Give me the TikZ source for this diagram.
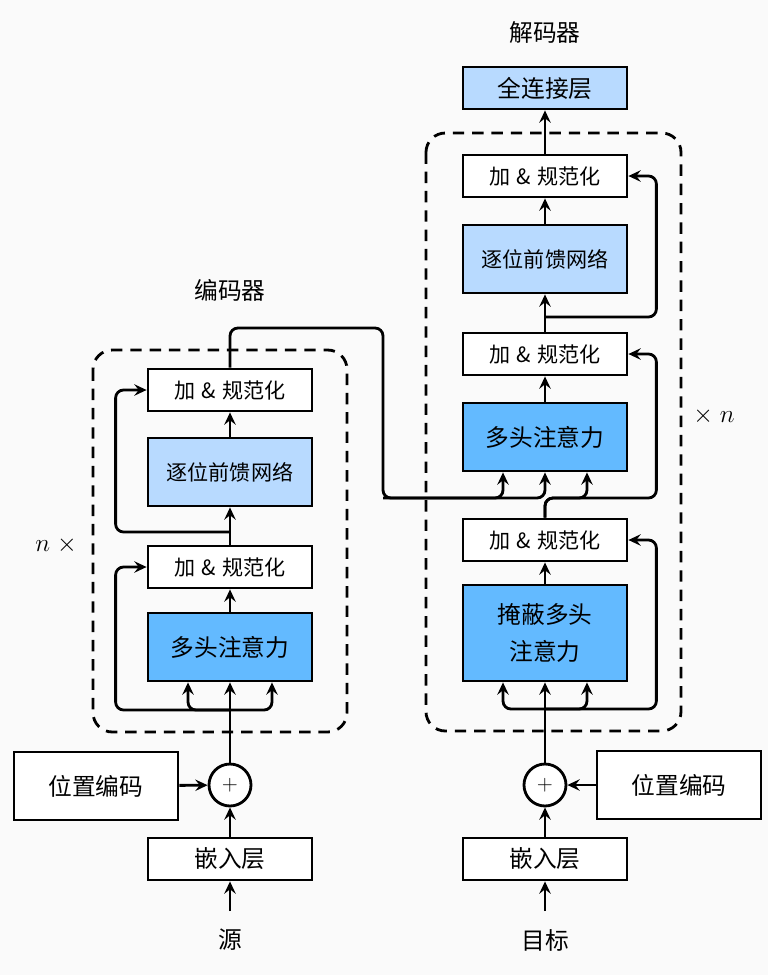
\documentclass[tikz,border=0pt]{standalone}
\usepackage{fontspec}
\usepackage{tikz}
\usetikzlibrary{arrows.meta}
\newfontfamily\cjk{Noto Sans CJK SC}
\definecolor{bg}{RGB}{250,250,250}
\definecolor{lightblue}{RGB}{184,218,255}
\definecolor{darkblue}{RGB}{99,186,255}
\newcommand{\addnormtext}{加\hspace{0.3em}\&\hspace{0.3em}规范化}

\begin{document}
\begin{tikzpicture}[x=0.02cm,y=-0.02cm,line width=1.6pt,
    >={Stealth[length=7pt,width=6.5pt,inset=2.5pt]},
    every node/.style={font=\cjk\fontsize{13.5}{17}\selectfont,inner sep=0pt},
    block/.style={draw,fill=white,minimum width=3.28cm,minimum height=0.84cm},
    addnorm/.style={block,font=\cjk\fontsize{12}{15}\selectfont},
    ffn/.style={block,fill=lightblue,minimum height=1.36cm,font=\cjk\fontsize{12}{15}\selectfont},
    mha/.style={block,fill=darkblue,minimum height=1.36cm},
    plus/.style={draw,circle,fill=white,minimum size=0.84cm,font=\fontsize{13}{15}\selectfont},
    rc/.style={rounded corners=4.5pt},
    frame/.style={dashed,dash pattern=on 6.5pt off 4.5pt,rounded corners=11pt}]
  \fill[bg] (0,0) rectangle (768,975);
  \useasboundingbox (0,0) rectangle (768,975);

  % encoder
  \node (enctitle) at (230,290) {编码器};
  \draw[frame] (93,350) rectangle (347,732);
  \node (encn)[font=\fontsize{15}{17}\selectfont] at (56,545) {$n\;\times$};
  \node (an2)[addnorm] at (230,390) {\addnormtext};
  \node (ffn)[ffn] at (230,472) {逐位前馈网络};
  \node (an1)[addnorm] at (230,567) {\addnormtext};
  \node (mha)[mha] at (230,647) {多头注意力};
  \node (add)[plus] at (230,785) {$+$};
  \node (pos)[block,minimum height=1.36cm] at (96,786) {位置编码};
  \node (emb)[block] at (230,859) {嵌入层};
  \node (src)[minimum height=1.1cm] at (230,940) {源};
  \coordinate (efork) at (230,710);
  \coordinate (emid) at (230,532);

  \draw[->] (src) -- (emb);
  \draw[->] (emb) -- (add);
  \draw[->] (pos) -- (add);
  \draw[->] (add) -- (mha);
  \draw[->,rc] (efork) -| ([xshift=-0.84cm]mha.south);
  \draw[->,rc] (efork) -| ([xshift=0.84cm]mha.south);
  \draw[->,rc] (efork) -| ([xshift=-0.62cm]an1.west) -- (an1.west);
  \draw[->] (mha) -- (an1);
  \draw[->] (an1) -- (ffn);
  \draw[->,rc] (emid) -| ([xshift=-0.62cm]an2.west) -- (an2.west);
  \draw[->] (ffn) -- (an2);

  % decoder
  \node (dectitle) at (545,33) {解码器};
  \draw[frame] (426,133) rectangle (681,731);
  \node (decn)[font=\fontsize{15}{17}\selectfont] at (714,416) {$\times\; n$};
  \node (fc)[block,fill=lightblue] at (545,88) {全连接层};
  \node (dan3)[addnorm] at (545,176) {\addnormtext};
  \node (dffn)[ffn] at (545,259) {逐位前馈网络};
  \node (dan2)[addnorm] at (545,354) {\addnormtext};
  \node (dmha)[mha] at (545,437) {多头注意力};
  \node (dan1)[addnorm] at (545,540) {\addnormtext};
  \node (dmmha)[mha,minimum height=1.92cm,align=center] at (545,633) {掩蔽多头\\[4pt]注意力};
  \node (dadd)[plus] at (545,785) {$+$};
  \node (dpos)[block,minimum height=1.36cm] at (679,785) {位置编码};
  \node (demb)[block] at (545,859) {嵌入层};
  \node (tgt)[minimum height=1.1cm] at (545,940) {目标};
  \coordinate (dfork) at (545,709);
  \coordinate (dcross) at (545,498);
  \coordinate (dmid) at (545,317);
  \coordinate (encout) at (383,498);

  \draw[->] (tgt) -- (demb);
  \draw[->] (demb) -- (dadd);
  \draw[->] (dpos) -- (dadd);
  \draw[->] (dadd) -- (dmmha);
  \draw[->,rc] (dfork) -| ([xshift=-0.84cm]dmmha.south);
  \draw[->,rc] (dfork) -| ([xshift=0.84cm]dmmha.south);
  \draw[->,rc] (dfork) -| ([xshift=0.56cm]dan1.east) -- (dan1.east);
  \draw[->] (dmmha) -- (dan1);
  \draw[->,rc] (an2.north) |- (383,328) -- (encout) -| ([xshift=-0.84cm]dmha.south);
  \draw[->,rc] (encout) -| (dmha.south);
  \draw[->,rc] (dan1.north) -- (dcross) -| ([xshift=0.84cm]dmha.south);
  \draw[->,rc] (dan1.north) -- (dcross) -| ([xshift=0.56cm]dan2.east) -- (dan2.east);
  \draw[->] (dmha) -- (dan2);
  \draw[->] (dan2) -- (dffn);
  \draw[->,rc] (dmid) -| ([xshift=0.56cm]dan3.east) -- (dan3.east);
  \draw[->] (dffn) -- (dan3);
  \draw[->] (dan3) -- (fc);
\end{tikzpicture}
\end{document}
